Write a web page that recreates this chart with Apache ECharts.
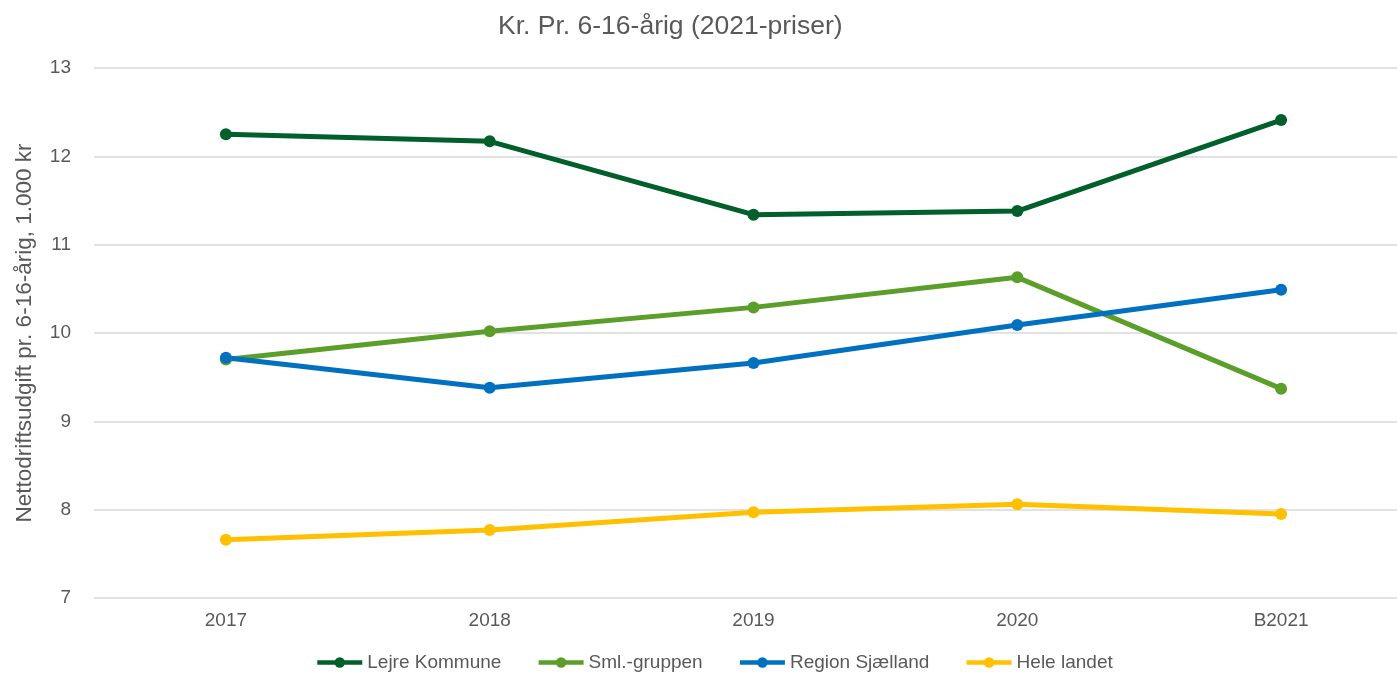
<!DOCTYPE html>
<html>
<head>
<meta charset="utf-8">
<script src="https://cdn.jsdelivr.net/npm/echarts@6/dist/echarts.min.js"></script>
<style>
  html, body { margin: 0; padding: 0; background: #fff; }
  #chart { width: 1397px; height: 674px; }
</style>
</head>
<body>
<div id="chart"></div>
<script>
var years = ['2017', '2018', '2019', '2020', 'B2021']
var lejre = [12.25, 12.17, 11.34, 11.38, 12.41]
var sml = [9.70, 10.02, 10.29, 10.63, 9.37]
var region = [9.72, 9.38, 9.66, 10.09, 10.49]
var hele = [7.66, 7.77, 7.97, 8.06, 7.95]

var font = 'Liberation Sans, Arial, sans-serif'
var grey = '#595959'

function line (name, data, color) {
  return {
    name: name,
    type: 'line',
    data: data,
    symbol: 'circle',
    symbolSize: 12,
    lineStyle: { width: 5, color: color },
    itemStyle: { color: color },
    emphasis: { disabled: true }
  }
}

var chart = echarts.init(document.getElementById('chart'))
chart.setOption({
  animation: false,
  textStyle: { fontFamily: font },
  title: {
    text: 'Kr. Pr. 6-16-årig (2021-priser)',
    left: 493,
    top: 8,
    textStyle: { color: grey, fontSize: 26.5, fontWeight: 'normal', fontFamily: font }
  },
  legend: {
    bottom: -3,
    left: 310,
    itemWidth: 45,
    itemHeight: 13,
    itemGap: 35,
    lineStyle: { width: 4.5 },
    textStyle: { color: grey, fontSize: 19, fontFamily: font },
    data: ['Lejre Kommune', 'Sml.-gruppen', 'Region Sjælland', 'Hele landet']
  },
  // plot area runs a little past the right edge of the picture, like the reference
  grid: { left: 94, width: 1319, top: 68, bottom: 76, outerBoundsMode: 'none' },
  xAxis: {
    type: 'category',
    data: years,
    axisLine: { show: false },
    axisTick: { show: false },
    axisLabel: { color: grey, fontSize: 19, margin: 13 }
  },
  yAxis: {
    type: 'value',
    min: 7,
    max: 13,
    interval: 1,
    name: 'Nettodriftsudgift pr. 6-16-årig, 1.000 kr',
    nameLocation: 'middle',
    nameGap: 58,
    nameTextStyle: { color: grey, fontSize: 22.5 },
    axisLine: { show: false },
    axisTick: { show: false },
    axisLabel: { color: grey, fontSize: 19, margin: 23 },
    splitLine: { lineStyle: { color: '#d9d9d9', width: 1.5 } }
  },
  series: [
    line('Lejre Kommune', lejre, '#005f2b'),
    line('Sml.-gruppen', sml, '#5b9e2a'),
    line('Region Sjælland', region, '#0070c0'),
    line('Hele landet', hele, '#ffc000')
  ]
})
</script>
</body>
</html>
